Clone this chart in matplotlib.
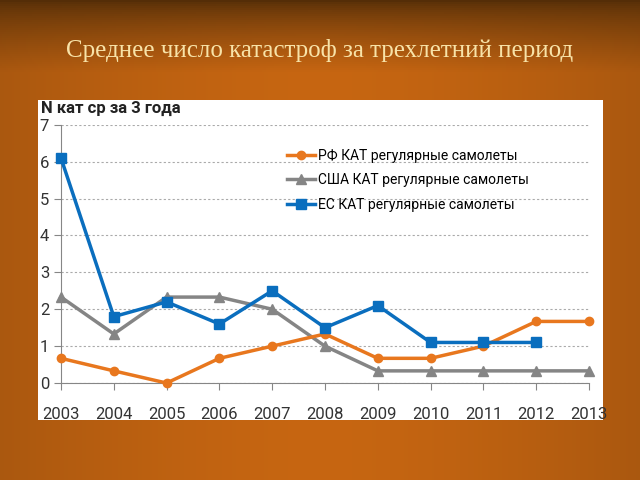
import numpy as np
import matplotlib.pyplot as plt
from matplotlib.patches import Rectangle

years = [2003, 2004, 2005, 2006, 2007, 2008, 2009, 2010, 2011, 2012, 2013]
rf = [0.67, 0.33, 0.0, 0.67, 1.0, 1.33, 0.67, 0.67, 1.0, 1.67, 1.67]
usa = [2.33, 1.33, 2.33, 2.33, 2.0, 1.0, 0.33, 0.33, 0.33, 0.33, 0.33]
eu_years = [2003, 2004, 2005, 2006, 2007, 2008, 2009, 2010, 2011, 2012]
eu = [6.1, 1.8, 2.2, 1.6, 2.5, 1.5, 2.1, 1.1, 1.1, 1.1]

labels = ["РФ КАТ регулярные самолеты",
          "США КАТ регулярные самолеты",
          "ЕС КАТ регулярные самолеты"]

narrow = "Roboto"

fig = plt.figure(figsize=(6.4, 4.8), dpi=100)

# background gradient
bg = fig.add_axes([0, 0, 1, 1])
yy, xx = np.mgrid[0:1:240j, 0:1:320j]
vert = np.clip(yy / 0.15, 0, 1) ** 0.7
horiz = 1 - 0.35 * np.abs(xx - 0.5) ** 1.5 * 2
shade = vert * horiz
dark = np.array([0.33, 0.18, 0.03])
light = np.array([0.78, 0.40, 0.07])
img = dark + (light - dark) * shade[..., None]
bg.imshow(img, aspect="auto", extent=[0, 1, 0, 1], origin="upper")
bg.axis("off")

fig.text(0.5, 0.895, "Среднее число катастроф за трехлетний период",
         ha="center", va="center", fontsize=18, color="#F8E3A8",
         family="Liberation Serif")

# white chart area
fig.patches.append(Rectangle((0.059, 0.125), 0.883, 0.667,
                             transform=fig.transFigure, facecolor="white",
                             edgecolor="none", zorder=1))

ax = fig.add_axes([0.0953, 0.202, 0.825, 0.538])
ax.set_facecolor("none")
ax.set_zorder(2)

ax.plot(years, rf, color="#E8771E", lw=2.5, marker="o", ms=6,
        label=labels[0], clip_on=False, zorder=4)
ax.plot(years, usa, color="#858585", lw=2.5, marker="^", ms=7,
        label=labels[1], clip_on=False, zorder=3)
ax.plot(eu_years, eu, color="#0A6EBE", lw=2.5, marker="s", ms=6.5,
        label=labels[2], clip_on=False, zorder=5)

ax.set_xlim(2003, 2013)
ax.set_ylim(0, 7)
ax.set_xticks(years)
ax.set_yticks(range(8))
ax.yaxis.grid(True, linestyle=(0, (2, 2)), color="#AAAAAA", lw=0.8)
ax.set_axisbelow(True)
for s in ["top", "right"]:
    ax.spines[s].set_visible(False)
for s in ["left", "bottom"]:
    ax.spines[s].set_color("#868686")
ax.tick_params(colors="#868686", labelcolor="#333333", labelsize=12,
               length=5, direction="out")
ax.tick_params(axis="x", pad=12)
for t in ax.get_xticklabels() + ax.get_yticklabels():
    t.set_family(narrow)

fig.text(0.064, 0.775, "N кат ср за 3 года", fontsize=12, weight="bold",
         family=narrow, color="#222222", ha="left", va="center")

ax.legend(loc="upper left", bbox_to_anchor=(0.405, 0.955), frameon=False,
          handlelength=2.0, handletextpad=0.2,
          labelspacing=0.75, prop={"family": narrow, "size": 10})

fig.savefig("out.png", dpi=100)
